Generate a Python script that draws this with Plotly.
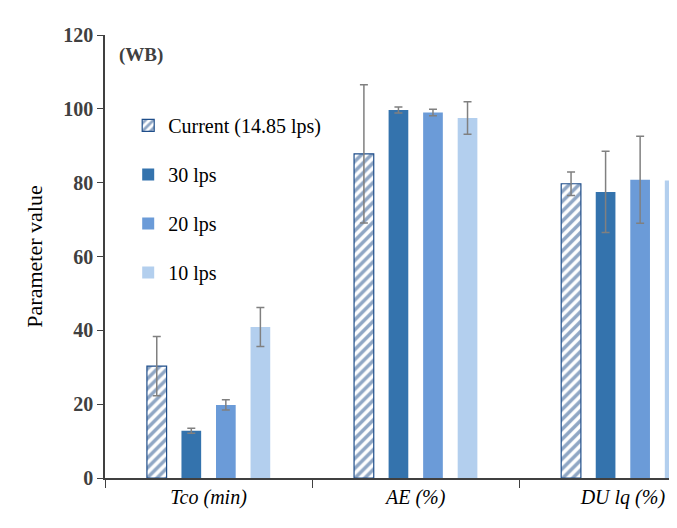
import plotly.graph_objects as go

categories = ["Tco (min)", "AE (%)", "DU lq (%)"]
series = ["Current (14.85 lps)", "30 lps", "20 lps", "10 lps"]
values = {
    "Current (14.85 lps)": [30.3, 87.8, 79.7],
    "30 lps": [12.8, 99.7, 77.5],
    "20 lps": [19.8, 99.0, 80.8],
    "10 lps": [40.9, 97.5, 80.6],
}
errors = {
    "Current (14.85 lps)": [8.0, 18.7, 3.2],
    "30 lps": [0.7, 0.8, 11.0],
    "20 lps": [1.4, 0.9, 11.8],
    "10 lps": [5.3, 4.4, 5.5],
}
colors = {"Current (14.85 lps)": "white", "30 lps": "#3473ad",
          "20 lps": "#6b9bd8", "10 lps": "#b3cfee"}

x = [0, 1, 2]
fig = go.Figure()
for s in series:
    marker = dict(color=colors[s], line=dict(color="#1f4e8a", width=1.2 if s.startswith("Current") else 0))
    if s.startswith("Current"):
        marker["pattern"] = dict(shape="/", fgcolor="#1f4e8a", bgcolor="white", size=7, solidity=0.5)
    fig.add_bar(x=x, y=values[s], name=s, marker=marker, legendgroup=s, cliponaxis=True,
                error_y=dict(type="data", array=errors[s], color="#808080", thickness=1.5, width=4))

font = "Liberation Serif"
fig.update_layout(
    width=677, height=528, barmode="group", bargap=0.333, bargroupgap=0.43,
    plot_bgcolor="white", paper_bgcolor="white",
    margin=dict(l=97, r=0, t=27, b=58),
    font=dict(family=font, size=17, color="black"),
    legend=dict(x=0.04, y=0.84, xanchor="left", yanchor="top", tracegroupgap=20,
                font=dict(size=20), bgcolor="rgba(0,0,0,0)"),
    xaxis=dict(range=[-0.5, 2.3], tickvals=x, ticktext=["<i>" + c + "</i>" for c in categories],
               showline=True, linecolor="#404040", linewidth=1.5, ticks="",
               minor=dict(tick0=0.5, dtick=1, ticks="outside", ticklen=8, tickcolor="#404040"),
               tickfont=dict(size=20), showgrid=False),
    yaxis=dict(range=[0, 120], dtick=20, showline=True, linecolor="#404040", linewidth=1.5,
               ticks="outside", ticklen=6, tickcolor="#404040", showgrid=False,
               tickfont=dict(size=20, weight="bold", color="#404040"),
               title=dict(text="Parameter value", font=dict(size=22))),
    annotations=[dict(x=0.02, y=0.985, xref="paper", yref="paper", text="<b>(WB)</b>",
                      showarrow=False, xanchor="left", yanchor="top", font=dict(size=19, color="#404040"))],
)
fig.write_html("out.html")
